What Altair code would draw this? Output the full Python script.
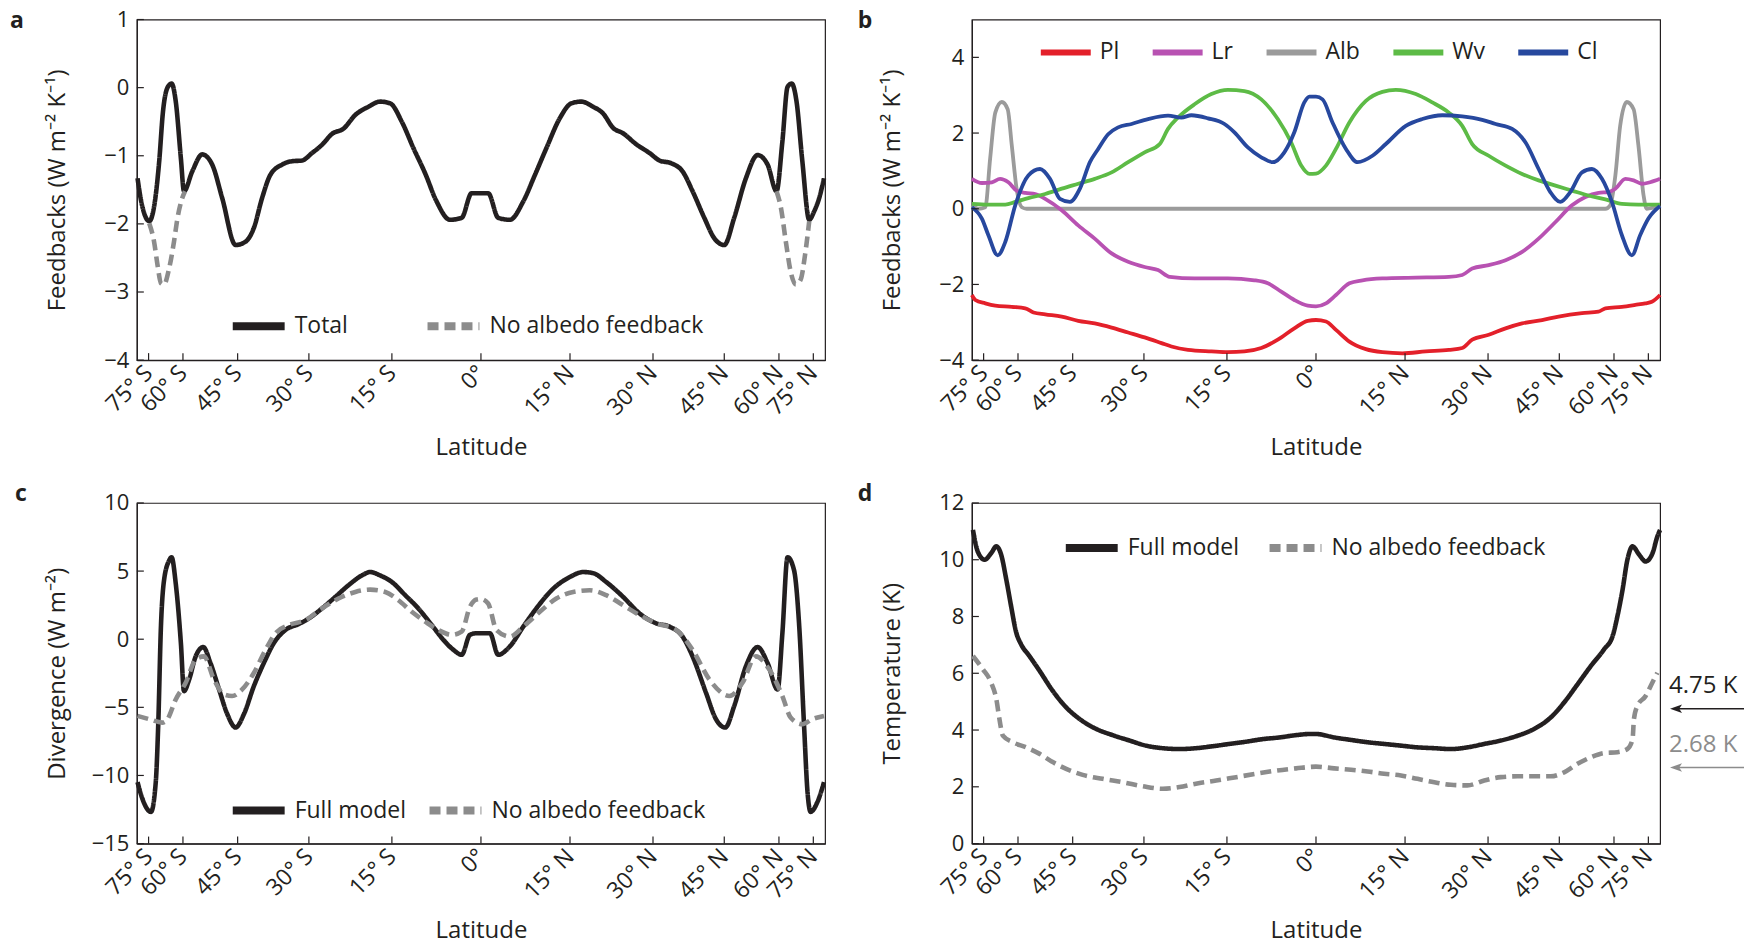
import math
import altair as alt
import pandas as pd

INK = "#231f20"
GREY = "#8c8c8c"
FONT = "Open Sans"
W, H = 689, 341

# ---------------- axis ticks (latitude, drawn on a sine-latitude axis) ----------------
tick_lats = [-75, -60, -45, -30, -15, 0, 15, 30, 45, 60, 75]
tick_x = [round(math.sin(math.radians(v)), 4) for v in tick_lats]

# ---------------- panel a : feedbacks (x = sine of latitude) ----------------
a_total_x = [-0.998, -0.988, -0.964, -0.950, -0.935, -0.924, -0.911, -0.899, -0.887, -0.872,
             -0.863, -0.839, -0.810, -0.781, -0.752, -0.713, -0.684, -0.660, -0.636, -0.612,
             -0.578, -0.549, -0.520, -0.491, -0.462, -0.433, -0.399, -0.365, -0.327, -0.293,
             -0.264, -0.230, -0.196, -0.162, -0.129, -0.090, -0.056, -0.027, 0.0,
             0.021, 0.050, 0.084, 0.123, 0.157, 0.190, 0.229, 0.263, 0.292, 0.326,
             0.355, 0.384, 0.413, 0.451, 0.490, 0.519, 0.553, 0.586, 0.615, 0.649,
             0.678, 0.707, 0.736, 0.770, 0.804, 0.833, 0.859, 0.876, 0.891, 0.903,
             0.917, 0.934, 0.954, 0.968, 0.983, 0.997]
a_total_y = [-1.33, -1.65, -1.96, -1.75, -1.08, -0.35, 0.0, 0.06, -0.2, -1.04,
             -1.52, -1.23, -0.98, -1.13, -1.62, -2.31, -2.26, -2.06, -1.62, -1.28,
             -1.13, -1.08, -1.07, -0.96, -0.84, -0.68, -0.60, -0.40, -0.28, -0.205,
             -0.23, -0.50, -0.89, -1.26, -1.67, -1.94, -1.91, -1.55, -1.55,
             -1.55, -1.91, -1.94, -1.67, -1.28, -0.89, -0.45, -0.23, -0.205, -0.28,
             -0.38, -0.59, -0.67, -0.83, -0.96, -1.07, -1.11, -1.23, -1.52, -1.91,
             -2.21, -2.31, -1.91, -1.33, -0.99, -1.13, -1.52, -0.79, 0.01, 0.06,
             -0.2, -1.08, -1.94, -1.82, -1.62, -1.33]
a_noalb_s_x = [-0.964, -0.950, -0.940, -0.930, -0.921, -0.906, -0.892, -0.882, -0.868, -0.860]
a_noalb_s_y = [-1.99, -2.26, -2.60, -2.87, -2.89, -2.65, -2.26, -1.92, -1.62, -1.52]
a_noalb_n_x = [0.859, 0.872, 0.886, 0.900, 0.915, 0.929, 0.942, 0.954]
a_noalb_n_y = [-1.52, -1.77, -2.26, -2.70, -2.89, -2.82, -2.45, -1.96]

# ---------------- panel b : individual feedbacks ----------------
pl_x = [-1.0, -0.990, -0.961, -0.932, -0.884, -0.845, -0.821, -0.787, -0.739, -0.691,
        -0.643, -0.594, -0.546, -0.498, -0.449, -0.420, -0.372, -0.304, -0.256, -0.208,
        -0.159, -0.111, -0.063, -0.024, 0.0, 0.029, 0.058, 0.097, 0.145, 0.193,
        0.251, 0.319, 0.386, 0.425, 0.454, 0.502, 0.551, 0.599, 0.657, 0.705,
        0.773, 0.821, 0.841, 0.889, 0.928, 0.957, 0.976, 1.0]
pl_y = [-2.28, -2.41, -2.5, -2.56, -2.59, -2.63, -2.74, -2.79, -2.85, -2.96,
        -3.03, -3.14, -3.27, -3.40, -3.55, -3.64, -3.73, -3.77, -3.79, -3.77,
        -3.68, -3.46, -3.16, -2.96, -2.94, -2.98, -3.20, -3.51, -3.71, -3.79,
        -3.82, -3.77, -3.73, -3.68, -3.46, -3.33, -3.16, -3.03, -2.94, -2.85,
        -2.76, -2.72, -2.63, -2.59, -2.54, -2.50, -2.46, -2.28]
lr_x = [-1.0, -0.971, -0.942, -0.918, -0.894, -0.870, -0.845, -0.816, -0.787, -0.739,
        -0.691, -0.643, -0.594, -0.546, -0.498, -0.459, -0.425, -0.353, -0.256, -0.179,
        -0.140, -0.101, -0.063, -0.024, 0.0, 0.029, 0.058, 0.097, 0.135, 0.193,
        0.290, 0.386, 0.425, 0.454, 0.502, 0.551, 0.599, 0.647, 0.696, 0.744,
        0.783, 0.821, 0.850, 0.870, 0.899, 0.923, 0.947, 0.971, 1.0]
lr_y = [0.79, 0.68, 0.70, 0.79, 0.70, 0.48, 0.42, 0.39, 0.26, -0.04,
        -0.44, -0.79, -1.18, -1.40, -1.54, -1.62, -1.80, -1.84, -1.84, -1.89,
        -1.97, -2.19, -2.41, -2.56, -2.58, -2.5, -2.28, -1.97, -1.89, -1.84,
        -1.82, -1.80, -1.75, -1.58, -1.49, -1.36, -1.14, -0.79, -0.35, 0.09,
        0.31, 0.42, 0.44, 0.53, 0.79, 0.75, 0.66, 0.70, 0.79]
alb_x = [-1.0, -0.981, -0.961, -0.947, -0.932, -0.913, -0.896, -0.884, -0.870, -0.855, -0.841,
         0.841, 0.855, 0.870, 0.884, 0.903, 0.923, 0.937, 0.952, 0.961, 1.0]
alb_y = [0.09, 0.0, 0.04, 1.32, 2.54, 2.82, 2.63, 1.67, 0.53, 0.04, 0.0,
         0.0, 0.09, 0.88, 2.19, 2.82, 2.63, 1.67, 0.35, 0.0, 0.09]
wv_x = [-1.0, -0.952, -0.903, -0.874, -0.836, -0.787, -0.739, -0.691, -0.643, -0.594,
        -0.546, -0.498, -0.454, -0.430, -0.401, -0.353, -0.304, -0.256, -0.208, -0.159,
        -0.111, -0.072, -0.043, -0.019, 0.0, 0.029, 0.058, 0.097, 0.145, 0.193,
        0.232, 0.290, 0.338, 0.386, 0.425, 0.454, 0.502, 0.551, 0.599, 0.647,
        0.696, 0.744, 0.792, 0.841, 0.889, 0.937, 1.0]
wv_y = [0.13, 0.11, 0.11, 0.18, 0.28, 0.39, 0.53, 0.66, 0.79, 0.96,
        1.23, 1.49, 1.71, 2.11, 2.41, 2.76, 3.03, 3.14, 3.11, 2.89,
        2.37, 1.75, 1.14, 0.92, 0.93, 1.14, 1.58, 2.28, 2.85, 3.09,
        3.14, 3.03, 2.81, 2.54, 2.19, 1.71, 1.40, 1.14, 0.92, 0.75,
        0.61, 0.48, 0.35, 0.25, 0.13, 0.11, 0.11]
cl_x = [-1.0, -0.971, -0.952, -0.925, -0.903, -0.874, -0.836, -0.802, -0.773, -0.744,
        -0.715, -0.686, -0.657, -0.633, -0.604, -0.575, -0.536, -0.488, -0.430, -0.391,
        -0.362, -0.314, -0.266, -0.237, -0.198, -0.159, -0.126, -0.092, -0.063, -0.034,
        -0.019, 0.0, 0.019, 0.048, 0.087, 0.121, 0.164, 0.203, 0.261, 0.309,
        0.367, 0.425, 0.483, 0.522, 0.570, 0.609, 0.647, 0.681, 0.710, 0.739,
        0.773, 0.802, 0.831, 0.860, 0.889, 0.918, 0.942, 0.966, 1.0]
cl_y = [0.04, -0.26, -0.70, -1.23, -0.88, 0.09, 0.88, 1.05, 0.79, 0.26,
        0.18, 0.53, 1.23, 1.58, 1.97, 2.15, 2.24, 2.37, 2.46, 2.41,
        2.47, 2.39, 2.24, 2.02, 1.62, 1.36, 1.23, 1.49, 2.02, 2.81,
        2.96, 2.96, 2.89, 2.28, 1.58, 1.23, 1.40, 1.71, 2.19, 2.37,
        2.47, 2.44, 2.35, 2.24, 2.11, 1.75, 1.05, 0.44, 0.18, 0.44,
        0.96, 1.05, 0.79, 0.18, -0.70, -1.23, -0.70, -0.26, 0.07]

# ---------------- panel c : divergence ----------------
c_full_x = [-0.998, -0.984, -0.959, -0.945, -0.938, -0.930, -0.921, -0.906, -0.899, -0.887,
            -0.872, -0.863, -0.848, -0.829, -0.807, -0.786, -0.761, -0.737, -0.713, -0.689,
            -0.660, -0.631, -0.602, -0.568, -0.529, -0.500, -0.462, -0.423, -0.385, -0.346,
            -0.322, -0.293, -0.259, -0.220, -0.182, -0.143, -0.109, -0.080, -0.056, -0.032,
            -0.013, 0.026, 0.050, 0.084, 0.123, 0.161, 0.210, 0.258, 0.297, 0.326,
            0.364, 0.413, 0.461, 0.509, 0.548, 0.586, 0.615, 0.654, 0.683, 0.710,
            0.736, 0.770, 0.804, 0.833, 0.862, 0.876, 0.891, 0.910, 0.925, 0.939,
            0.949, 0.958, 0.978, 0.997]
c_full_y = [-10.49, -11.7, -12.67, -10.49, -6.4, 0.92, 4.32, 5.78, 6.02, 4.1,
            -0.29, -3.81, -2.96, -1.26, -0.58, -1.75, -3.69, -5.51, -6.48, -5.51,
            -3.45, -1.75, -0.29, 0.68, 1.12, 1.53, 2.26, 3.11, 3.96, 4.68,
            4.93, 4.68, 4.2, 3.23, 2.26, 1.04, -0.05, -0.78, -1.14, 0.32,
            0.44, 0.44, -1.14, -0.53, 0.92, 2.26, 3.71, 4.56, 4.93, 4.85,
            4.2, 3.11, 1.89, 1.17, 0.92, 0.19, -1.26, -3.93, -5.87, -6.48,
            -4.9, -1.99, -0.58, -1.75, -3.69, 0.44, 6.02, 5.05, 0.92, -6.36,
            -11.2, -12.67, -11.94, -10.49]
c_noalb_x = [-0.998, -0.964, -0.926, -0.911, -0.887, -0.858, -0.829, -0.805, -0.776, -0.747,
             -0.723, -0.694, -0.660, -0.626, -0.597, -0.558, -0.510, -0.462, -0.414, -0.365,
             -0.322, -0.278, -0.240, -0.201, -0.162, -0.124, -0.085, -0.056, -0.032, -0.013,
             0.0, 0.021, 0.045, 0.084, 0.123, 0.171, 0.219, 0.268, 0.316, 0.364,
             0.413, 0.461, 0.509, 0.567, 0.615, 0.664, 0.722, 0.760, 0.799, 0.838,
             0.876, 0.900, 0.934, 0.963, 0.997]
c_noalb_y = [-5.63, -5.87, -6.12, -5.87, -4.42, -3.2, -1.5, -1.26, -2.96, -4.05,
             -4.17, -3.69, -2.48, -0.78, 0.44, 1.04, 1.41, 2.26, 2.99, 3.47,
             3.64, 3.47, 2.86, 2.01, 1.29, 0.68, 0.32, 0.56, 2.38, 2.91,
             2.95, 2.62, 0.68, 0.19, 0.92, 2.01, 2.99, 3.47, 3.59, 3.23,
             2.5, 1.77, 1.17, 0.68, -0.78, -2.96, -4.17, -3.2, -1.26, -2.23,
             -4.17, -5.75, -6.24, -5.87, -5.63]

# ---------------- panel d : temperature change ----------------
d_full_x = [-0.997, -0.983, -0.963, -0.944, -0.929, -0.915, -0.900, -0.886, -0.871, -0.857,
            -0.833, -0.803, -0.765, -0.726, -0.687, -0.639, -0.591, -0.542, -0.494, -0.445,
            -0.397, -0.349, -0.300, -0.252, -0.203, -0.155, -0.106, -0.058, -0.019, 0.0,
            0.053, 0.102, 0.150, 0.198, 0.247, 0.295, 0.344, 0.392, 0.440, 0.489,
            0.537, 0.586, 0.634, 0.682, 0.721, 0.760, 0.799, 0.837, 0.862, 0.876,
            0.891, 0.905, 0.920, 0.939, 0.958, 0.978, 0.992, 1.0]
d_full_y = [11.05, 10.29, 10.0, 10.23, 10.47, 10.18, 9.30, 8.36, 7.43, 7.02,
            6.61, 6.08, 5.38, 4.80, 4.39, 4.04, 3.82, 3.63, 3.45, 3.36,
            3.33, 3.36, 3.43, 3.51, 3.59, 3.68, 3.74, 3.82, 3.86, 3.86,
            3.74, 3.65, 3.57, 3.51, 3.45, 3.39, 3.36, 3.33, 3.39, 3.51,
            3.63, 3.80, 4.04, 4.44, 4.97, 5.61, 6.26, 6.84, 7.31, 8.01,
            8.95, 10.0, 10.47, 10.18, 9.94, 10.23, 10.82, 11.05]
d_noalb_x = [-0.997, -0.968, -0.944, -0.929, -0.920, -0.910, -0.881, -0.842, -0.803, -0.765,
             -0.726, -0.678, -0.620, -0.561, -0.503, -0.445, -0.397, -0.349, -0.290, -0.232,
             -0.174, -0.116, -0.058, 0.0, 0.053, 0.102, 0.150, 0.198, 0.247, 0.295,
             0.344, 0.392, 0.440, 0.489, 0.537, 0.586, 0.634, 0.682, 0.721, 0.760,
             0.799, 0.837, 0.876, 0.905, 0.920, 0.924, 0.934, 0.958, 0.973, 0.992]
d_noalb_y = [6.61, 6.14, 5.67, 5.09, 4.39, 3.80, 3.57, 3.39, 3.16, 2.87,
             2.63, 2.42, 2.28, 2.16, 2.02, 1.93, 1.99, 2.11, 2.22, 2.34,
             2.46, 2.57, 2.65, 2.71, 2.65, 2.60, 2.54, 2.46, 2.40, 2.28,
             2.16, 2.07, 2.05, 2.22, 2.34, 2.37, 2.37, 2.37, 2.51, 2.81,
             3.04, 3.19, 3.22, 3.33, 3.68, 4.39, 4.85, 5.20, 5.56, 6.02]
d_means = [4.75, 2.68]
d_mean_labels = ["4.75 K", "2.68 K"]
d_mean_colors = [INK, GREY]


def frame(x, y, series, seg=None):
    return pd.DataFrame({"x": x, "y": y, "series": series, "seg": seg or series})


LAT = "round(asin(datum.value)*180/PI)"
LAT_LABEL = (f"{LAT} == 0 ? '0°' : abs({LAT}) + '° ' + ({LAT} < 0 ? 'S' : 'N')")

XSCALE = alt.Scale(domain=[-1, 1], nice=False, zero=False)


def x_main():
    return alt.X("x:Q", scale=XSCALE, axis=alt.Axis(
        values=tick_x, labelExpr=LAT_LABEL, labelAngle=315, labelAlign="right",
        labelBaseline="middle", labelPadding=9, labelOverlap=False, labelFlush=False,
        labelFontSize=23, title="Latitude", titleY=87, titleBaseline="middle"))


def y_main(domain, values, title):
    return alt.Y("y:Q", scale=alt.Scale(domain=domain, nice=False, zero=False),
                 axis=alt.Axis(values=values, title=title, titleX=-79,
                               titleBaseline="middle", labelPadding=8))


def tick_layers(domain, values, title):
    xt = alt.Chart(pd.DataFrame({"x": tick_x})).mark_rule(color=INK, strokeWidth=1.2).encode(
        x=x_main(), y=alt.value(H), y2=alt.value(H - 7))
    yt = alt.Chart(pd.DataFrame({"y": values})).mark_rule(color=INK, strokeWidth=1.2).encode(
        y=y_main(domain, values, title), x=alt.value(0), x2=alt.value(7))
    return [xt, yt]


def letter(ch, x, y):
    return alt.Chart(pd.DataFrame({"t": [ch]})).mark_text(
        font=FONT, fontSize=23, fontWeight="bold", color=INK, align="center", baseline="middle"
    ).encode(text="t:N", x=alt.value(x), y=alt.value(y))


def legend(lx, ly, colpad, size=2700, sw=8):
    return alt.Legend(title=None, orient="none", legendX=lx, legendY=ly, direction="horizontal",
                      symbolType="stroke", symbolSize=size, symbolStrokeWidth=sw,
                      labelFont=FONT, labelFontSize=23, labelColor=INK, labelOffset=6,
                      columnPadding=colpad, padding=0, labelLimit=400)


def two_series_panel(df, names, domain, yvals, title, leg, ch, chx, chy, extra=None):
    lines = alt.Chart(df).mark_line(strokeWidth=4.6, interpolate="monotone", strokeJoin="round").encode(
        x=x_main(),
        y=y_main(domain, yvals, title),
        color=alt.Color("series:N", scale=alt.Scale(domain=names, range=[INK, GREY]), legend=leg),
        strokeDash=alt.StrokeDash("series:N", scale=alt.Scale(domain=names, range=[[1, 0], [11, 6]]),
                                  legend=leg),
        detail="seg:N",
    )
    layers = [lines] + tick_layers(domain, yvals, title) + [letter(ch, chx, chy)]
    if extra:
        layers += extra
    return alt.layer(*layers).properties(width=W, height=H)


# panel a
names_a = ["Total", "No albedo feedback"]
df_a = pd.concat([
    frame(a_total_x, a_total_y, "Total"),
    frame(a_noalb_s_x, a_noalb_s_y, "No albedo feedback", "na_s"),
    frame(a_noalb_n_x, a_noalb_n_y, "No albedo feedback", "na_n"),
])
title_a = "Feedbacks (W m⁻² K⁻¹)"
pa = two_series_panel(df_a, names_a, [-4, 1], [-4, -3, -2, -1, 0, 1],
                      title_a, legend(92, 277, 63), "a", -120, 1)

# panel b
names_b = ["Pl", "Lr", "Alb", "Wv", "Cl"]
colors_b = ["#e3202a", "#b852b2", "#9b9b9b", "#5dbb46", "#27489e"]
df_b = pd.concat([
    frame(alb_x, alb_y, "Alb"),
    frame(lr_x, lr_y, "Lr"),
    frame(pl_x, pl_y, "Pl"),
    frame(wv_x, wv_y, "Wv"),
    frame(cl_x, cl_y, "Cl"),
])
yb = [-4, -2, 0, 2, 4]
lines_b = alt.Chart(df_b).mark_line(strokeWidth=3.8, interpolate="monotone", strokeJoin="round").encode(
    x=x_main(),
    y=y_main([-4, 5], yb, title_a),
    color=alt.Color("series:N", scale=alt.Scale(domain=names_b, range=colors_b),
                    legend=legend(66, 5, 21, size=2500, sw=6)),
)
pb = alt.layer(lines_b, *tick_layers([-4, 5], yb, title_a), letter("b", -107, 1)).properties(
    width=W, height=H)

# panel c
names_c = ["Full model", "No albedo feedback"]
df_c = pd.concat([
    frame(c_full_x, c_full_y, "Full model"),
    frame(c_noalb_x, c_noalb_y, "No albedo feedback"),
])
pc = two_series_panel(df_c, names_c, [-15, 10], [-15, -10, -5, 0, 5, 10],
                      "Divergence (W m⁻²)", legend(92, 278, 7), "c", -116, -9)

# panel d with the mean-warming arrows
df_d = pd.concat([
    frame(d_full_x, d_full_y, "Full model"),
    frame(d_noalb_x, d_noalb_y, "No albedo feedback"),
])
yd = [0, 2, 4, 6, 8, 10, 12]
title_d = "Temperature (K)"
means = pd.DataFrame({"y": d_means, "lab": d_mean_labels, "col": d_mean_colors})
arrow_line = alt.Chart(means).mark_rule(strokeWidth=1.6).encode(
    y=y_main([0, 12], yd, title_d), x=alt.value(W + 14), x2=alt.value(W + 84),
    stroke=alt.Stroke("col:N", scale=None))
arrow_head = alt.Chart(means).mark_point(
    shape="M -1 0 L 0.7 -0.6 L 0.3 0 L 0.7 0.6 Z", filled=True, size=200, opacity=1, strokeWidth=0
).encode(y=y_main([0, 12], yd, title_d), x=alt.value(W + 17),
         fill=alt.Fill("col:N", scale=None))
arrow_text = alt.Chart(means).mark_text(font=FONT, fontSize=24, align="left", baseline="middle", dy=-23).encode(
    y=y_main([0, 12], yd, title_d), x=alt.value(W + 9), text="lab:N",
    fill=alt.Fill("col:N", scale=None))
pd_ = two_series_panel(df_d, names_c, [0, 12], yd, title_d,
                       legend(90, 15, 14), "d", -107, -9,
                       extra=[arrow_line, arrow_head, arrow_text])

chart = alt.concat(pa, pb, pc, pd_, columns=2, spacing={"row": 22, "column": 30}).resolve_scale(
    color="independent", strokeDash="independent", x="independent", y="independent"
).resolve_legend(color="independent", strokeDash="independent").properties(
    padding={"left": 9, "top": 7, "right": 0, "bottom": 0}
).configure(
    font=FONT
).configure_view(
    stroke=INK, strokeWidth=1.2
).configure_axis(
    labelFont=FONT, titleFont=FONT, labelFontSize=22, titleFontSize=24,
    labelColor=INK, titleColor=INK, titleFontWeight="normal",
    domainColor=INK, domainWidth=1.2, ticks=False, grid=False
)

chart.save("out.html", embed_options={"renderer": "svg", "actions": False})
